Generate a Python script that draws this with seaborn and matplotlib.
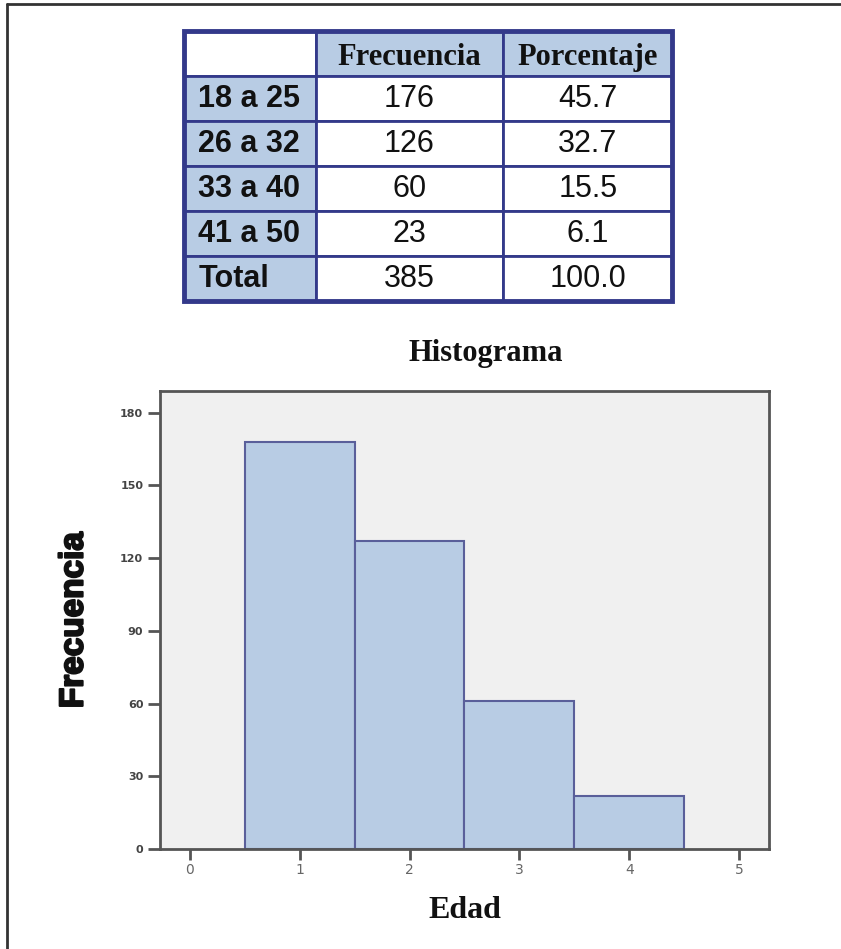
import numpy as np
import pandas as pd
import seaborn as sns
import matplotlib.pyplot as plt
import matplotlib.patheffects as pe
from matplotlib.patches import Rectangle

# Table data
grupos = ["18 a 25", "26 a 32", "33 a 40", "41 a 50", "Total"]
frecuencias = ["176", "126", "60", "23", "385"]
porcentajes = ["45.7", "32.7", "15.5", "6.1", "100.0"]
columnas = ["", "Frecuencia", "Porcentaje"]

# Histogram data (bar heights)
edad_codigos = [1, 2, 3, 4]
conteos = [168, 127, 61, 22]
bordes_bins = [0.5, 1.5, 2.5, 3.5, 4.5]
xticks = [0, 1, 2, 3, 4, 5]
yticks = [0, 30, 60, 90, 120, 150, 180]

sns.set_theme(style = "white")
plt.rcParams["font.family"] = ["Liberation Sans", "DejaVu Sans"]

azul_claro = "#b8cce4"
azul_borde = "#33398a"

fig = plt.figure(figsize = (8.41, 9.49), dpi = 100)

# Outer frame (left and top edges only visible)
fig.add_artist(plt.Line2D([0.0083, 0.0083], [0, 0.9958], transform = fig.transFigure, color = "#333333", lw = 2))
fig.add_artist(plt.Line2D([0.0083, 1.0], [0.9958, 0.9958], transform = fig.transFigure, color = "#333333", lw = 2))

# Table
ax_t = fig.add_axes([0.2188, 0.6828, 0.5803, 0.2845])
ax_t.axis("off")
filas = [columnas] + [[g, f, p] for g, f, p in zip(grupos, frecuencias, porcentajes)]
tabla = ax_t.table(cellText = filas, bbox = [0, 0, 1, 1], colWidths = [131, 187, 168], cellLoc = "center")
tabla.auto_set_font_size(False)
for (r, c), cell in tabla.get_celld().items():
    cell.set_edgecolor(azul_borde)
    cell.set_linewidth(2)
    txt = cell.get_text()
    if r == 0:
        cell.set_facecolor("white" if c == 0 else azul_claro)
        txt.set_fontfamily("Liberation Serif")
        txt.set_fontweight("bold")
        txt.set_fontsize(22)
        txt.set_va("center_baseline")
    elif c == 0:
        cell.set_facecolor(azul_claro)
        cell.PAD = 0.11
        txt.set_ha("left")
        txt.set_fontweight("bold")
        txt.set_fontsize(22)
    else:
        cell.set_facecolor("white")
        txt.set_fontsize(22)
    txt.set_color("#111111")
ax_t.add_patch(Rectangle((0, 0), 1, 1, transform = ax_t.transAxes, fill = False, edgecolor = azul_borde, lw = 3.5, clip_on = False))

# Histogram
ax = fig.add_axes([0.1902, 0.1054, 0.7242, 0.4826])
ax.set_facecolor("#f0f0f0")
sns.histplot(x = edad_codigos, weights = conteos, bins = bordes_bins, color = azul_claro,
             edgecolor = "#5a5f9a", linewidth = 1.5, alpha = 1, ax = ax)
ax.set_xlim(-0.27, 5.27)
ax.set_ylim(0, 189)
ax.set_xticks(xticks)
ax.set_yticks(yticks)
ax.tick_params(axis = "x", length = 8, width = 2, color = "#555555", labelsize = 10, labelcolor = "#666666", pad = 2)
ax.tick_params(axis = "y", length = 9, width = 2, color = "#555555", labelsize = 8, labelcolor = "#444444", pad = 3)
ax.tick_params(bottom = True, left = True)
for lbl in ax.get_xticklabels():
    lbl.set_fontfamily("DejaVu Sans")
for lbl in ax.get_yticklabels():
    lbl.set_fontfamily("DejaVu Sans")
    lbl.set_fontweight("bold")
for side in ["left", "bottom", "right", "top"]:
    ax.spines[side].set_visible(True)
    ax.spines[side].set_color("#555555")
    ax.spines[side].set_linewidth(2)

ax.set_xlabel("Edad", fontfamily = "Liberation Serif", fontweight = "bold", fontsize = 23, color = "#111111", labelpad = 14)
ylab = ax.set_ylabel("Frecuencia", fontweight = "bold", fontsize = 24, color = "#111111", labelpad = 22)
ylab.set_path_effects([pe.withStroke(linewidth = 1.5, foreground = "#111111")])
fig.text(0.577, 0.627, "Histograma", fontfamily = "Liberation Serif", fontweight = "bold", fontsize = 22, color = "#111111", ha = "center", va = "center")

plt.savefig("out.png", dpi = 100)
